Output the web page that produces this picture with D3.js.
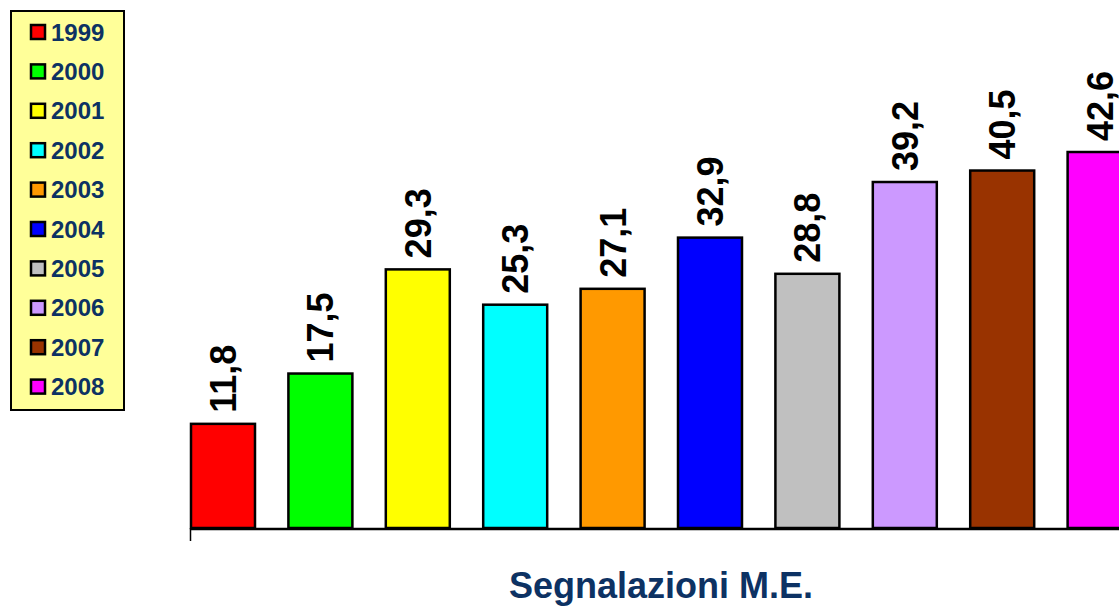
<!DOCTYPE html>
<meta charset="utf-8">
<style>
  body { margin: 0; background: #fff; }
  text { font-family: Arial, "Liberation Sans", sans-serif; font-weight: bold; }
</style>
<body>
<script src="https://d3js.org/d3.v7.min.js"></script>
<script>
  // data
  var years = ["1999", "2000", "2001", "2002", "2003", "2004", "2005", "2006", "2007", "2008"];
  var values = [11.8, 17.5, 29.3, 25.3, 27.1, 32.9, 28.8, 39.2, 40.5, 42.6];
  var colors = ["#FF0000", "#00FF00", "#FFFF00", "#00FFFF", "#FF9900",
                "#0000FF", "#C0C0C0", "#CC99FF", "#993300", "#FF00FF"];
  var title = "Segnalazioni M.E.";

  var width = 1119, height = 607;
  var baseY = 528;

  var svg = d3.select("body").append("svg")
    .attr("width", width)
    .attr("height", height);

  // scales (plot area runs past the right edge, as in the original)
  var x = d3.scaleBand()
    .domain(years)
    .range([191, 1131.6])
    .paddingInner(0.343)
    .paddingOuter(0);

  var y = d3.scaleLinear()
    .domain([0, 42.6])
    .range([baseY, 152]);

  var fmt = function(v) { return d3.format(".1f")(v).replace(".", ","); };

  // bars
  svg.selectAll(".bar")
    .data(years)
    .enter().append("rect")
    .attr("class", "bar")
    .attr("x", function(d) { return x(d); })
    .attr("y", function(d, i) { return y(values[i]); })
    .attr("width", x.bandwidth())
    .attr("height", function(d, i) { return baseY - y(values[i]); })
    .style("fill", function(d, i) { return colors[i]; })
    .style("stroke", "#000")
    .style("stroke-width", 2.5);

  // value labels, rotated
  svg.selectAll(".lbl")
    .data(years)
    .enter().append("text")
    .attr("class", "lbl")
    .attr("transform", function(d, i) {
      return "translate(" + (x(d) + x.bandwidth() / 2) + "," + (y(values[i]) - 11) + ") rotate(-90)";
    })
    .attr("dy", "0.36em")
    .style("font-size", "36px")
    .style("fill", "#000")
    .text(function(d, i) { return fmt(values[i]); });

  // x axis line
  svg.append("line")
    .attr("x1", 190).attr("x2", width)
    .attr("y1", baseY + 1).attr("y2", baseY + 1)
    .style("stroke", "#000").style("stroke-width", 2.5);
  svg.append("line")
    .attr("x1", 190.5).attr("x2", 190.5)
    .attr("y1", baseY).attr("y2", 541)
    .style("stroke", "#000").style("stroke-width", 1.5);

  // title
  svg.append("text")
    .attr("x", 661)
    .attr("y", 598)
    .attr("text-anchor", "middle")
    .style("font-size", "36px")
    .style("fill", "#0D3263")
    .text(title);

  // legend
  var legend = svg.append("g");
  legend.append("rect")
    .attr("x", 11).attr("y", 11)
    .attr("width", 113).attr("height", 399)
    .style("fill", "#FFFF99")
    .style("stroke", "#000")
    .style("stroke-width", 2);

  var item = legend.selectAll(".item")
    .data(years)
    .enter().append("g")
    .attr("class", "item")
    .attr("transform", function(d, i) { return "translate(0," + (32 + i * 39.4) + ")"; });

  item.append("rect")
    .attr("x", 31).attr("y", -7)
    .attr("width", 14).attr("height", 14)
    .style("fill", function(d, i) { return colors[i]; })
    .style("stroke", "#000")
    .style("stroke-width", 2.5);

  item.append("text")
    .attr("x", 51)
    .attr("dy", "0.36em")
    .style("font-size", "24px")
    .style("fill", "#0D3263")
    .text(function(d) { return d; });
</script>
</body>
